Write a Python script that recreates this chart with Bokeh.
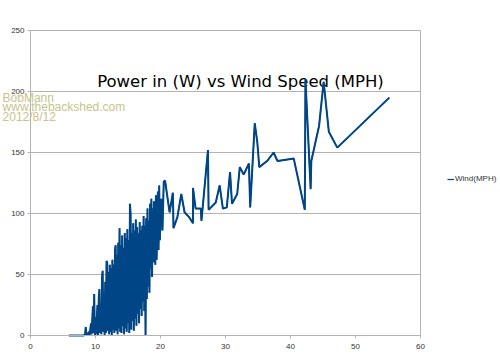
from bokeh.plotting import figure
from bokeh.models import Legend, LegendItem, Label, FixedTicker, Range1d
from bokeh.core.properties import value
from bokeh.embed import file_html
from bokeh.resources import INLINE

# ---- data ----
wind_speed = [
    5.9, 6.5, 7.2, 7.8, 8.2, 8.4, 8.5, 8.6, 8.8, 9.0, 9.1, 9.3, 9.4, 9.6, 9.7, 9.8, 9.9, 10.0,
    10.1, 10.3, 10.4, 10.5, 10.6, 10.7, 10.8, 10.9, 11.0, 11.1, 11.2, 11.3, 11.4, 11.5, 11.6,
    11.7, 11.8, 11.9, 12.0, 12.1, 12.2, 12.3, 12.4, 12.5, 12.6, 12.7, 12.8, 12.9, 13.0, 13.1,
    13.2, 13.3, 13.4, 13.5, 13.6, 13.7, 13.8, 13.9, 14.0, 14.1, 14.2, 14.3, 14.4, 14.5, 14.6,
    14.7, 14.8, 14.9, 15.0, 15.1, 15.2, 15.3, 15.4, 15.5, 15.6, 15.7, 15.8, 15.9, 16.0, 16.1,
    16.2, 16.3, 16.4, 16.5, 16.6, 16.7, 16.8, 16.9, 17.0, 17.1, 17.2, 17.3, 17.4, 17.5, 17.6,
    17.7, 17.8, 17.9, 18.0, 18.1, 18.2, 18.3, 18.4, 18.5, 18.6, 18.7, 18.8, 18.9, 19.0, 19.2,
    19.3, 19.4, 19.6, 19.7, 19.8, 19.9, 20.1, 20.3, 20.5, 20.7,
    21.4, 21.9, 22.0, 22.6, 23.2, 23.7, 24.4, 25.0, 25.0, 25.4, 26.2, 26.3, 27.3, 27.4, 28.5,
    29.1, 29.6, 30.2, 30.7, 31.0, 31.8, 32.2, 32.8, 33.6, 33.8, 34.5, 34.9, 35.2, 36.4, 37.4,
    38.0, 40.5, 42.2, 42.3, 43.1, 43.2, 44.4, 45.1, 45.9, 47.2, 55.2,
]
power = [
    0, 0, 0, 0, 0, 1, 7, 0, 1, 3, 0, 10, 1, 24, 2, 34, 0, 15,
    1, 25, 0, 30, 38, 2, 20, 1, 47, 53, 3, 35, 0, 44, 2,
    61, 60, 4, 52, 1, 58, 3, 55, 0, 62, 5, 58, 2, 70, 74,
    4, 66, 1, 76, 6, 88, 3, 74, 2, 82, 8, 72, 1, 84, 6,
    80, 3, 87, 10, 78, 2, 108, 100, 5, 84, 12, 92, 4, 86, 14,
    95, 8, 89, 18, 84, 10, 93, 22, 86, 16, 90, 28, 98, 20, 90,
    0, 96, 30, 104, 40, 94, 35, 108, 55, 112, 48, 104, 60, 110, 58,
    115, 62, 118, 70, 123, 78, 112, 86, 126, 127,
    101, 117, 88, 97, 116, 101, 97, 92, 121, 104, 104, 94, 152, 103, 109,
    123, 104, 105, 134, 108, 116, 138, 132, 141, 105, 174, 158, 138, 143, 150,
    143, 145, 103, 210, 120, 143, 172, 208, 167, 154, 195,
]
series_name = "Wind(MPH)"
chart_title = "Power in (W) vs Wind Speed (MPH)"
watermark_lines = ["BobMann", "www.thebackshed.com", "2012/8/12"]
x_ticks = [0, 10, 20, 30, 40, 50, 60]
y_ticks = [0, 50, 100, 150, 200, 250]

GRID = "#b3b3b3"
LINE = "#004586"
PX_PER_X = 6.5            # horizontal pixels per mph
PX_PER_Y = 1.22           # vertical pixels per watt
X_MIN, X_MAX = x_ticks[0], x_ticks[-1]
Y_MIN, Y_MAX = y_ticks[0], y_ticks[-1]

# The frame spans the whole page so that the watermark (left), the legend
# (right) and the tick labels can sit inside it; axes are pinned and bounded.
p = figure(width=500, height=363, output_backend="svg", toolbar_location=None,
           x_range=Range1d(X_MIN - 30 / PX_PER_X, X_MAX + 80 / PX_PER_X),
           y_range=Range1d(Y_MIN - 28 / PX_PER_Y, Y_MAX + 30 / PX_PER_Y),
           min_border_left=0, min_border_right=0, min_border_top=0, min_border_bottom=0)

p.outline_line_color = None
p.background_fill_color = "white"

# horizontal grid lines between x = 0 and x = 60
p.ygrid.ticker = FixedTicker(ticks=y_ticks)
p.ygrid.grid_line_color = GRID
try:
    p.ygrid.cross_bounds = (X_MIN, X_MAX)
except Exception:
    p.ygrid.grid_line_color = None
    p.segment(x0=[X_MIN] * len(y_ticks), x1=[X_MAX] * len(y_ticks), y0=y_ticks, y1=y_ticks,
              line_color=GRID, line_width=1)
# right-hand border at x = 60
p.xgrid.ticker = FixedTicker(ticks=[X_MAX])
p.xgrid.grid_line_color = GRID
try:
    p.xgrid.cross_bounds = (Y_MIN, Y_MAX)
except Exception:
    pass

for ax, ticks in ((p.xaxis[0], x_ticks), (p.yaxis[0], y_ticks)):
    ax.ticker = FixedTicker(ticks=ticks)
    ax.axis_line_color = GRID
    ax.major_tick_line_color = GRID
    ax.major_tick_out = 3
    ax.major_tick_in = 0
    ax.minor_tick_line_color = None
    ax.major_label_text_font = "Liberation Sans"
    ax.major_label_text_font_size = "8px"
    ax.major_label_text_color = "#333333"
p.xaxis.bounds = (X_MIN, X_MAX)
p.xaxis.fixed_location = Y_MIN
p.xaxis.major_label_standoff = 5
p.yaxis.bounds = (Y_MIN, Y_MAX)
p.yaxis.fixed_location = X_MIN
p.yaxis.major_label_standoff = 3

# title drawn as text inside the plot (beneath the data line)
p.text(x=[32.3], y=[208], text=[chart_title], text_font=value("DejaVu Sans"),
       text_font_size="16.5px", text_align="center", text_baseline="alphabetic",
       text_color="#000000")

# thinner copy (hidden under the main line) whose style is used for the legend swatch
r_key = p.line(wind_speed, power, line_color=LINE, line_width=1.2)
r = p.line(wind_speed, power, line_color=LINE, line_width=2)

legend = Legend(items=[LegendItem(label=series_name, renderers=[r_key])],
                location=(447, 180), padding=0, margin=0, spacing=0,
                glyph_width=7, glyph_height=8, label_height=8, label_standoff=1,
                label_text_font_size="8px", label_text_font="Liberation Sans",
                label_text_color="#333333", border_line_color=None,
                background_fill_alpha=0)
p.add_layout(legend)

for i, t in enumerate(watermark_lines):
    p.add_layout(Label(x=-4.3, y=195.0 - i * 7.95, text=t, text_font="Liberation Sans",
                       text_font_size="12px", text_color="#c8c38c",
                       text_baseline="alphabetic"))

open("out.html", "w").write(file_html(p, INLINE))
